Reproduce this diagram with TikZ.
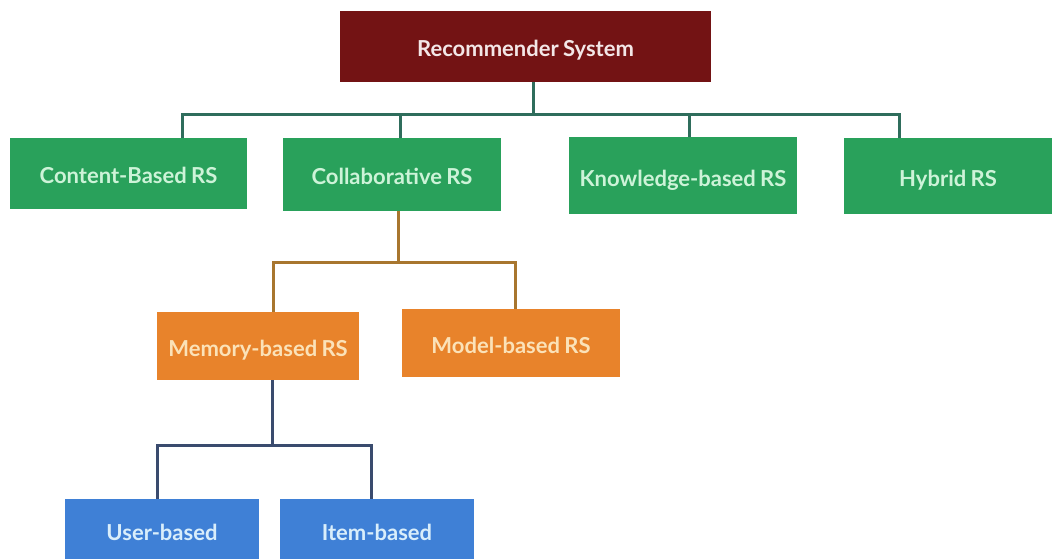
\documentclass[tikz,border=0pt]{standalone}
\usepackage{fontspec}
\setmainfont{Lato}[UprightFont=* Bold, WordSpace={0.8}]
\usetikzlibrary{calc}
\definecolor{cred}{HTML}{731314}
\definecolor{cgreen}{HTML}{29A15B}
\definecolor{corange}{HTML}{E8832B}
\definecolor{cblue}{HTML}{3F80D6}
\definecolor{tred}{HTML}{F3E7E7}
\definecolor{tgreen}{HTML}{CDF3D8}
\definecolor{torange}{HTML}{FBE2B8}
\definecolor{tblue}{HTML}{D9EEFB}
\definecolor{lgreen}{HTML}{2F6D5C}
\definecolor{lorange}{HTML}{A8762F}
\definecolor{lblue}{HTML}{3A4B6E}
\tikzset{
  box/.style={inner sep=0pt, font=\fontsize{22}{26}\selectfont, text height=21pt, text depth=0pt},
  redbox/.style={box, fill=cred, text=tred},
  greenbox/.style={box, fill=cgreen, text=tgreen},
  orangebox/.style={box, fill=corange, text=torange},
  bluebox/.style={box, fill=cblue, text=tblue},
  conn/.style={line width=3pt},
}
\begin{document}
\begin{tikzpicture}[x=1pt,y=-1pt]
\useasboundingbox (0,0) rectangle (1061,559);
\fill[white] (0,0) rectangle (1061,559);
\node[redbox, minimum width=371pt, minimum height=71pt] (rec) at (525.5,46.5) {Recommender System};
\node[greenbox, minimum width=237pt, minimum height=71pt] (cb) at (128.5,173.5) {Content-Based RS};
\node[greenbox, minimum width=218pt, minimum height=73pt] (col) at (392,174.5) {Collaborative RS};
\node[greenbox, minimum width=228pt, minimum height=77pt] (kb) at (683,175.5) {Knowledge-based RS};
\node[greenbox, minimum width=208pt, minimum height=76pt] (hy) at (948,176) {Hybrid RS};
\node[orangebox, minimum width=202pt, minimum height=68pt] (mem) at (258,346) {Memory-based RS};
\node[orangebox, minimum width=218pt, minimum height=68pt] (mod) at (511,343) {Model-based RS};
\node[bluebox, minimum width=194pt, minimum height=61pt] (ub) at (162,529.5) {User-based};
\node[bluebox, minimum width=194pt, minimum height=61pt] (ib) at (377,529.5) {Item-based};
% green bus
\coordinate (b0) at (533,115);
\coordinate (b1) at (182,115);
\coordinate (b2) at (400,115);
\coordinate (b3) at (689,115);
\coordinate (b4) at (899,115);
\begin{scope}[conn, draw=lgreen]
\draw (b0 |- rec.south) -- (b0);
\draw (b1 |- cb.north) -- (b1) -- (b4) -- (b4 |- hy.north);
\draw (b2) -- (b2 |- col.north);
\draw (b3) -- (b3 |- kb.north);
\end{scope}
% orange bus
\coordinate (o0) at (398,262);
\coordinate (o1) at (273,262);
\coordinate (o2) at (515,262);
\begin{scope}[conn, draw=lorange]
\draw (o0 |- col.south) -- (o0);
\draw (o1 |- mem.north) -- (o1) -- (o2) -- (o2 |- mod.north);
\end{scope}
% blue bus
\coordinate (u0) at (272,445);
\coordinate (u1) at (157,445);
\coordinate (u2) at (371,445);
\begin{scope}[conn, draw=lblue]
\draw (u0 |- mem.south) -- (u0);
\draw (u1 |- ub.north) -- (u1) -- (u2) -- (u2 |- ib.north);
\end{scope}
\end{tikzpicture}
\end{document}
